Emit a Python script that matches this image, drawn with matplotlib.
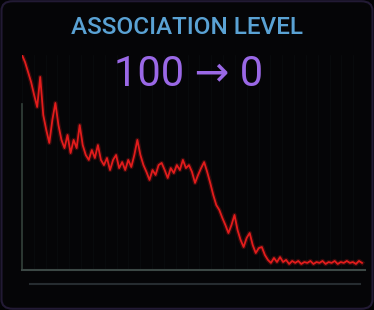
import numpy as np
import matplotlib.pyplot as plt
from matplotlib.patches import FancyBboxPatch
from matplotlib.lines import Line2D

# association level readings, left to right
level = [100, 96.7, 92.1, 87.4, 81.4, 75.8, 89.8, 72.1, 65.1, 59.1,
         69.8, 77.7, 67.4, 60.5, 56.7, 62.8, 54.4, 60.5, 56.7, 67.4,
         58.1, 53.5, 51.2, 55.8, 52.1, 58.1, 51.2, 48.8, 52.1, 46.5,
         51.2, 53.5, 47.4, 50.2, 46.5, 51.2, 47.9, 53.5, 60.5, 53.5,
         48.8, 45.6, 41.9, 46.5, 44.2, 48.8, 49.8, 46.5, 42.8, 47.4,
         45.1, 48.8, 46.5, 51.2, 47.4, 48.8, 45.6, 40.5, 44.2, 47.4,
         50.2, 45.6, 40.5, 34.9, 30.2, 27.9, 24.2, 20.9, 17.2, 20.9,
         25.6, 18.6, 14.0, 10.7, 14.9, 17.2, 11.6, 7.9, 10.2, 10.7,
         7.0, 4.7, 3.3, 5.6, 3.7, 6.0, 3.7, 4.7, 2.8, 4.2,
         3.3, 4.2, 2.8, 3.7, 3.3, 4.2, 2.8, 3.7, 3.3, 4.2,
         2.8, 3.7, 3.3, 4.2, 2.8, 3.7, 3.3, 4.2, 3.3, 3.7,
         2.8, 4.2, 3.3]
steps = np.arange(len(level))

title = "ASSOCIATION LEVEL"
subtitle = "100 \u2192 0"

fig = plt.figure(figsize=(3.74, 3.10), dpi=100)
fig.patch.set_facecolor("#030305")

frame = FancyBboxPatch((0.004, 0.004), 0.992, 0.992,
                       boxstyle="round,pad=0,rounding_size=0.03",
                       transform=fig.transFigure, facecolor="#050507",
                       edgecolor="#221a34", linewidth=1.5, zorder=-5)
fig.patches.append(frame)

ax = fig.add_axes([22/374, 40/310, 343/374, 215/310])
ax.set_facecolor("none")
ax.set_zorder(2)

# glow + line
ax.plot(steps, level, color="#ff2020", lw=3.2, alpha=0.2)
ax.plot(steps, level, color="#e21c1c", lw=1.3)

ax.set_xlim(0, (len(level) - 1) * 343 / 340)
ax.set_ylim(0, 100)

for xv in np.linspace(0, len(level), 30):
    ax.axvline(xv, color="#090b0d", lw=0.6, zorder=0)

for s in ["top", "right"]:
    ax.spines[s].set_visible(False)
ax.spines["left"].set_color("#33413a")
ax.spines["bottom"].set_color("#3c4845")
ax.spines["left"].set_linewidth(1.2)
ax.spines["bottom"].set_linewidth(1.5)
ax.spines["left"].set_bounds(0, 77)
ax.set_xticks([])
ax.set_yticks([])

fig.lines.append(Line2D([30/374, 360/374], [26/310, 26/310],
                        transform=fig.transFigure, color="#262c30", lw=1.5))

fig.text(0.5, 1 - 28/310, title, color="#5aa2d4", fontsize=17.5,
         family="Roboto", weight="medium", ha="center", va="center")
fig.text(0.505, 1 - 75/310, subtitle, color="#9a68e6", fontsize=30,
         family=["Roboto", "DejaVu Sans"], ha="center", va="center")

fig.savefig("out.png", dpi=100, facecolor=fig.get_facecolor())
